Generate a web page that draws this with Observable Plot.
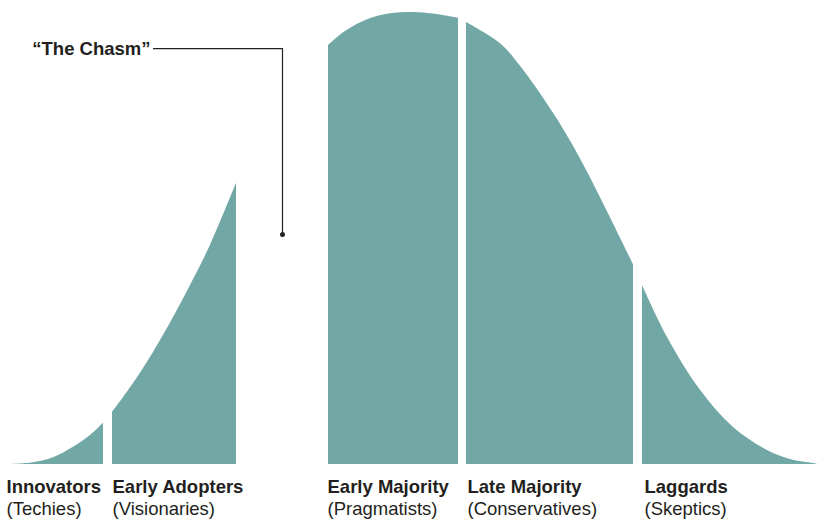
<!DOCTYPE html>
<html>
<head>
<meta charset="utf-8">
<script src="https://cdn.jsdelivr.net/npm/d3@7"></script>
<script src="https://cdn.jsdelivr.net/npm/@observablehq/plot@0.6"></script>
<style>
  html, body { margin: 0; padding: 0; background: #fff; }
  #chart svg { display: block; }
</style>
</head>
<body>
<div id="chart"></div>
<script>
// Adoption curve (x = position along adoption, y = share of peak)
const segmentNames = ["Innovators", "Early Adopters", "Early Majority", "Late Majority", "Laggards"];
const segmentSubtitles = ["(Techies)", "(Visionaries)", "(Pragmatists)", "(Conservatives)", "(Skeptics)"];
const labelX = [6, 112, 327, 467, 644];

const innovatorsX = [7, 33, 53, 73, 90, 103];
const innovatorsY = [0, 0.4, 1.5, 3.8, 6.4, 9.1];
const earlyAdoptersX = [112, 133, 153, 173, 190, 210, 236];
const earlyAdoptersY = [11.5, 17.9, 24.8, 32.5, 39.6, 48.5, 62.2];
const earlyMajorityX = [328, 345, 367, 390, 413, 435, 458];
const earlyMajorityY = [92.7, 95.8, 98.4, 99.7, 100, 99.6, 98.7];
const lateMajorityX = [466, 500, 520, 553, 577, 603, 633];
const lateMajorityY = [97.8, 93.1, 88.1, 77.7, 68.8, 57.7, 44.2];
const laggardsX = [642, 667, 700, 733, 767, 790, 813, 817];
const laggardsY = [39.6, 28.1, 16.4, 8.2, 3.1, 1.1, 0.2, 0];

const chasmLabel = "\u201CThe Chasm\u201D";
const chasmLeaderX = [153, 282, 282];
const chasmLeaderY = [92.0, 92.0, 50.9];

const segX = [innovatorsX, earlyAdoptersX, earlyMajorityX, lateMajorityX, laggardsX];
const segY = [innovatorsY, earlyAdoptersY, earlyMajorityY, lateMajorityY, laggardsY];
const curve = segmentNames.flatMap((name, i) =>
  segX[i].map((x, j) => ({segment: name, x, y: segY[i][j]})));
const labels = segmentNames.map((name, i) => ({name, sub: segmentSubtitles[i], x: labelX[i]}));
const leader = chasmLeaderX.map((x, i) => ({x, y: chasmLeaderY[i]}));

const teal = "#71a8a5";
const font = "'Liberation Sans', Arial, sans-serif";

const chart = Plot.plot({
  width: 817,
  height: 521,
  marginLeft: 0,
  marginRight: 0,
  marginTop: 12,
  marginBottom: 57,
  x: {domain: [0, 817], axis: null},
  y: {domain: [0, 100], axis: null},
  style: {fontFamily: font, background: "#fff"},
  marks: [
    Plot.areaY(curve, {x: "x", y: "y", z: "segment", fill: teal, curve: "catmull-rom"}),
    Plot.line(leader, {x: "x", y: "y", stroke: "#222", strokeWidth: 1.2}),
    Plot.dot(leader.slice(-1), {x: "x", y: "y", r: 2.5, fill: "#222", stroke: null}),
    Plot.text([chasmLabel], {x: chasmLeaderX[0], y: chasmLeaderY[0], text: d => d, textAnchor: "end",
      dx: -3, fontSize: 18.5, fontWeight: "bold", fill: "#231f20", lineAnchor: "middle"}),
    Plot.text(labels, {x: "x", y: 0, text: "name", textAnchor: "start", dy: 23,
      fontSize: 18.5, fontWeight: "bold", fill: "#231f20", lineAnchor: "middle"}),
    Plot.text(labels, {x: "x", y: 0, text: "sub", textAnchor: "start", dy: 45,
      fontSize: 18.5, fill: "#231f20", lineAnchor: "middle"})
  ]
});
document.getElementById("chart").append(chart);
</script>
</body>
</html>
